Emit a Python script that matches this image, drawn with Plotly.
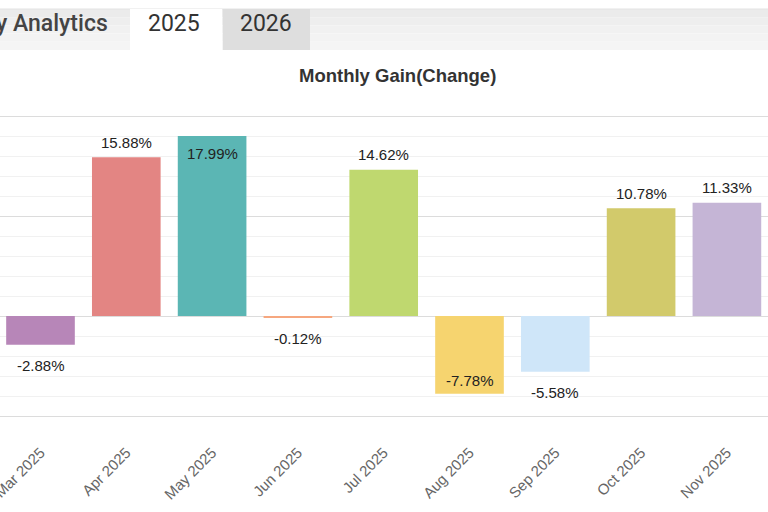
import plotly.graph_objects as go

months = ["Mar 2025", "Apr 2025", "May 2025", "Jun 2025", "Jul 2025",
          "Aug 2025", "Sep 2025", "Oct 2025", "Nov 2025"]
gains = [-2.88, 15.88, 17.99, -0.12, 14.62, -7.78, -5.58, 10.78, 11.33]
colors = ["#b786b8", "#e38583", "#5bb6b4", "#f6a77f", "#bfd86f",
          "#f6d46f", "#cfe6f9", "#d2ca6b", "#c5b5d6"]
tabs = ["y Analytics", "2025", "2026"]
title = "Monthly Gain(Change)"

W, H = 768, 512
ML, MR, MT, MB = 0, 0, 113, 93
YMIN, YMAX = -10.3, 20.3
PLOT_H = H - MT - MB
slot = 85.8
x_lo = -40.5 / slot
x_hi = x_lo + (W - ML - MR) / slot

def py(pix):
    return 1 + (MT - pix) / PLOT_H

def px(pix):
    return pix / W

fig = go.Figure()
fig.add_trace(go.Bar(
    x=months, y=gains,
    marker=dict(color=colors, line=dict(width=0)),
    hoverinfo="skip",
))

annotations = []
unit_px = PLOT_H / (YMAX - YMIN)
for m, v in zip(months, gains):
    if v >= 0:
        out_c = v + 14 / unit_px
        shift = 15 if out_c < 20 - 8 / unit_px else -17
    else:
        out_c = v - 21 / unit_px
        shift = -21 if out_c > -10 + 8 / unit_px else 13
    annotations.append(dict(
        x=m, y=v, xref="x", yref="y", text=f"{v:.2f}%", showarrow=False,
        yshift=shift, yanchor="middle",
        font=dict(family="Liberation Sans, Arial", size=15, color="#222"),
    ))

annotations.append(dict(
    x=px(397), y=py(75), xref="paper", yref="paper", text=f"<b>{title}</b>",
    showarrow=False, xanchor="center", yanchor="middle",
    font=dict(family="Liberation Sans, Arial", size=18.5, color="#333"),
))

# tab bar
shapes = []
stripe_cols = ["#ebebeb", "#eeeeee", "#f1f1f1", "#f3f3f3", "#f5f5f5"]
top, bot = 9, 50
step = (bot - top) / len(stripe_cols)
for i, c in enumerate(stripe_cols):
    shapes.append(dict(type="rect", xref="paper", yref="paper",
                       x0=0, x1=1, y0=py(top + (i + 1) * step), y1=py(top + i * step),
                       fillcolor=c, line=dict(width=0), layer="below"))
shapes.append(dict(type="line", xref="paper", yref="paper", x0=0, x1=1,
                   y0=py(top), y1=py(top), line=dict(color="#e3e3e3", width=1)))
shapes.append(dict(type="rect", xref="paper", yref="paper",
                   x0=px(130), x1=px(222), y0=py(bot), y1=py(top),
                   fillcolor="#ffffff", line=dict(width=0)))
shapes.append(dict(type="rect", xref="paper", yref="paper",
                   x0=px(223), x1=px(310), y0=py(bot), y1=py(top),
                   fillcolor="#dedede", line=dict(width=0)))

annotations.append(dict(
    x=px(110), y=py(24), xref="paper", yref="paper", text=tabs[0],
    showarrow=False, xanchor="right", yanchor="middle",
    font=dict(family="Roboto", size=23, color="#444", weight=500),
))
annotations.append(dict(
    x=px(174), y=py(24), xref="paper", yref="paper", text=tabs[1],
    showarrow=False, xanchor="center", yanchor="middle",
    font=dict(family="Roboto", size=23, color="#333"),
))
annotations.append(dict(
    x=px(266), y=py(24), xref="paper", yref="paper", text=tabs[2],
    showarrow=False, xanchor="center", yanchor="middle",
    font=dict(family="Roboto", size=23, color="#333"),
))

fig.update_layout(
    width=W, height=H,
    margin=dict(l=ML, r=MR, t=MT, b=MB, pad=0, autoexpand=False),
    paper_bgcolor="#ffffff", plot_bgcolor="#ffffff",
    bargap=0.2, showlegend=False,
    annotations=annotations, shapes=shapes,
    xaxis=dict(
        type="category", range=[x_lo, x_hi], showgrid=False, zeroline=False,
        showline=False, ticks="", tickangle=-45, ticklabelstandoff=21,
        automargin=False,
        tickfont=dict(family="Liberation Sans, Arial", size=15, color="#666"),
        fixedrange=True,
    ),
    yaxis=dict(
        range=[YMIN, YMAX], dtick=10, tick0=0, showticklabels=False,
        gridcolor="#dcdcdc", gridwidth=1, zeroline=False, showline=False,
        minor=dict(dtick=2, showgrid=True, gridcolor="#f1f1f1", gridwidth=1),
        automargin=False, fixedrange=True,
    ),
)

fig.write_html("out.html", config={"displayModeBar": False},
               post_script="document.body.style.margin='0';document.body.style.overflow='hidden';")
